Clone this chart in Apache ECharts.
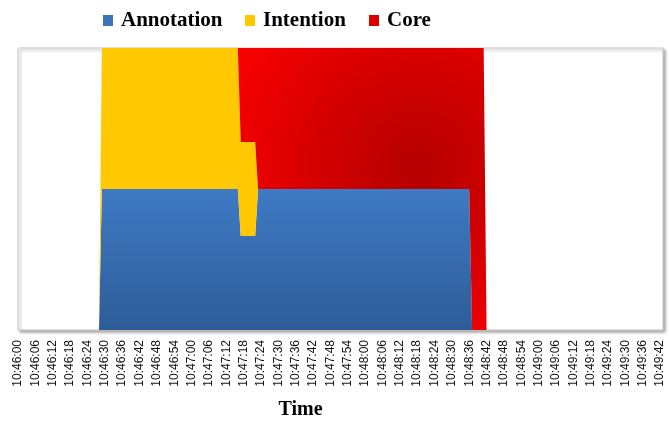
<!DOCTYPE html>
<html>
<head>
<meta charset="utf-8">
<script src="https://cdn.jsdelivr.net/npm/echarts@6/dist/echarts.min.js"></script>
<style>html,body{margin:0;padding:0;background:#fff}#c{width:669px;height:425px}</style>
</head>
<body>
<div id="c"></div>
<script>
// One category per second, 10:46:00 .. 10:49:43
var categories = [
"10:46:00","10:46:01","10:46:02","10:46:03","10:46:04","10:46:05","10:46:06","10:46:07","10:46:08","10:46:09",
"10:46:10","10:46:11","10:46:12","10:46:13","10:46:14","10:46:15","10:46:16","10:46:17","10:46:18","10:46:19",
"10:46:20","10:46:21","10:46:22","10:46:23","10:46:24","10:46:25","10:46:26","10:46:27","10:46:28","10:46:29",
"10:46:30","10:46:31","10:46:32","10:46:33","10:46:34","10:46:35","10:46:36","10:46:37","10:46:38","10:46:39",
"10:46:40","10:46:41","10:46:42","10:46:43","10:46:44","10:46:45","10:46:46","10:46:47","10:46:48","10:46:49",
"10:46:50","10:46:51","10:46:52","10:46:53","10:46:54","10:46:55","10:46:56","10:46:57","10:46:58","10:46:59",
"10:47:00","10:47:01","10:47:02","10:47:03","10:47:04","10:47:05","10:47:06","10:47:07","10:47:08","10:47:09",
"10:47:10","10:47:11","10:47:12","10:47:13","10:47:14","10:47:15","10:47:16","10:47:17","10:47:18","10:47:19",
"10:47:20","10:47:21","10:47:22","10:47:23","10:47:24","10:47:25","10:47:26","10:47:27","10:47:28","10:47:29",
"10:47:30","10:47:31","10:47:32","10:47:33","10:47:34","10:47:35","10:47:36","10:47:37","10:47:38","10:47:39",
"10:47:40","10:47:41","10:47:42","10:47:43","10:47:44","10:47:45","10:47:46","10:47:47","10:47:48","10:47:49",
"10:47:50","10:47:51","10:47:52","10:47:53","10:47:54","10:47:55","10:47:56","10:47:57","10:47:58","10:47:59",
"10:48:00","10:48:01","10:48:02","10:48:03","10:48:04","10:48:05","10:48:06","10:48:07","10:48:08","10:48:09",
"10:48:10","10:48:11","10:48:12","10:48:13","10:48:14","10:48:15","10:48:16","10:48:17","10:48:18","10:48:19",
"10:48:20","10:48:21","10:48:22","10:48:23","10:48:24","10:48:25","10:48:26","10:48:27","10:48:28","10:48:29",
"10:48:30","10:48:31","10:48:32","10:48:33","10:48:34","10:48:35","10:48:36","10:48:37","10:48:38","10:48:39",
"10:48:40","10:48:41","10:48:42","10:48:43","10:48:44","10:48:45","10:48:46","10:48:47","10:48:48","10:48:49",
"10:48:50","10:48:51","10:48:52","10:48:53","10:48:54","10:48:55","10:48:56","10:48:57","10:48:58","10:48:59",
"10:49:00","10:49:01","10:49:02","10:49:03","10:49:04","10:49:05","10:49:06","10:49:07","10:49:08","10:49:09",
"10:49:10","10:49:11","10:49:12","10:49:13","10:49:14","10:49:15","10:49:16","10:49:17","10:49:18","10:49:19",
"10:49:20","10:49:21","10:49:22","10:49:23","10:49:24","10:49:25","10:49:26","10:49:27","10:49:28","10:49:29",
"10:49:30","10:49:31","10:49:32","10:49:33","10:49:34","10:49:35","10:49:36","10:49:37","10:49:38","10:49:39",
"10:49:40","10:49:41","10:49:42","10:49:43"
];

// Activity flags per second (1 = active), 10 values per row
var annotation = [
0,0,0,0,0,0,0,0,0,0,
0,0,0,0,0,0,0,0,0,0,
0,0,0,0,0,0,0,0,0,1,
1,1,1,1,1,1,1,1,1,1,
1,1,1,1,1,1,1,1,1,1,
1,1,1,1,1,1,1,1,1,1,
1,1,1,1,1,1,1,1,1,1,
1,1,1,1,1,1,1,1,1,1,
1,1,1,1,1,1,1,1,1,1,
1,1,1,1,1,1,1,1,1,1,
1,1,1,1,1,1,1,1,1,1,
1,1,1,1,1,1,1,1,1,1,
1,1,1,1,1,1,1,1,1,1,
1,1,1,1,1,1,1,1,1,1,
1,1,1,1,1,1,1,1,1,1,
1,1,1,1,1,1,1,0,0,0,
0,0,0,0,0,0,0,0,0,0,
0,0,0,0,0,0,0,0,0,0,
0,0,0,0,0,0,0,0,0,0,
0,0,0,0,0,0,0,0,0,0,
0,0,0,0,0,0,0,0,0,0,
0,0,0,0,0,0,0,0,0,0,
0,0,0,0
];

var intention = [
0,0,0,0,0,0,0,0,0,0,
0,0,0,0,0,0,0,0,0,0,
0,0,0,0,0,0,0,0,0,1,
1,1,1,1,1,1,1,1,1,1,
1,1,1,1,1,1,1,1,1,1,
1,1,1,1,1,1,1,1,1,1,
1,1,1,1,1,1,1,1,1,1,
1,1,1,1,1,1,1,1,1,1,
1,1,1,0,0,0,0,0,0,0,
0,0,0,0,0,0,0,0,0,0,
0,0,0,0,0,0,0,0,0,0,
0,0,0,0,0,0,0,0,0,0,
0,0,0,0,0,0,0,0,0,0,
0,0,0,0,0,0,0,0,0,0,
0,0,0,0,0,0,0,0,0,0,
0,0,0,0,0,0,0,0,0,0,
0,0,0,0,0,0,0,0,0,0,
0,0,0,0,0,0,0,0,0,0,
0,0,0,0,0,0,0,0,0,0,
0,0,0,0,0,0,0,0,0,0,
0,0,0,0,0,0,0,0,0,0,
0,0,0,0,0,0,0,0,0,0,
0,0,0,0
];

var core = [
0,0,0,0,0,0,0,0,0,0,
0,0,0,0,0,0,0,0,0,0,
0,0,0,0,0,0,0,0,0,0,
0,0,0,0,0,0,0,0,0,0,
0,0,0,0,0,0,0,0,0,0,
0,0,0,0,0,0,0,0,0,0,
0,0,0,0,0,0,0,0,0,0,
0,0,0,0,0,0,0,1,1,1,
1,1,1,1,1,1,1,1,1,1,
1,1,1,1,1,1,1,1,1,1,
1,1,1,1,1,1,1,1,1,1,
1,1,1,1,1,1,1,1,1,1,
1,1,1,1,1,1,1,1,1,1,
1,1,1,1,1,1,1,1,1,1,
1,1,1,1,1,1,1,1,1,1,
1,1,1,1,1,1,1,1,1,1,
1,1,0,0,0,0,0,0,0,0,
0,0,0,0,0,0,0,0,0,0,
0,0,0,0,0,0,0,0,0,0,
0,0,0,0,0,0,0,0,0,0,
0,0,0,0,0,0,0,0,0,0,
0,0,0,0,0,0,0,0,0,0,
0,0,0,0
];

var seriesNames = ["Annotation", "Intention", "Core"];

// 100% stacked: share of each series at each second
var raw = [annotation, intention, core];
var pct = raw.map(function (arr) {
  return arr.map(function (v, i) {
    var s = annotation[i] + intention[i] + core[i];
    return s === 0 ? 0 : v / s * 100;
  });
});

var blueFill = new echarts.graphic.LinearGradient(0, 0, 0, 1, [
  {offset: 0, color: '#3f7ac4'}, {offset: 1, color: '#2d5c98'}]);
var yellowFill = '#ffc800';
var redFill = new echarts.graphic.RadialGradient(0.62, 0.42, 0.72, [
  {offset: 0, color: '#b40000'}, {offset: 1, color: '#f60000'}]);
var fills = [blueFill, yellowFill, redFill];
var legendColors = ['#3f74b8', '#ffc800', '#dd0000'];

var chart = echarts.init(document.getElementById('c'), null, {renderer: 'canvas'});
var legendLefts = [98, 240, 364];
chart.setOption({
  animation: false,
  color: legendColors,
  legend: seriesNames.map(function (n, i) {
    return {
      data: [n], left: legendLefts[i], top: 5,
      itemWidth: 10, itemHeight: 11, icon: 'rect',
      textStyle: {fontFamily: '"Liberation Serif", "Times New Roman", serif', fontWeight: 'bold',
        fontSize: 21, color: '#000', padding: [0, 0, 0, 3]}
    };
  }),
  grid: {
    left: 18, right: 6, top: 48, bottom: 89, show: true,
    backgroundColor: '#fff', borderColor: '#c8c8c8', borderWidth: 1,
    shadowColor: 'rgba(0,0,0,0.35)', shadowBlur: 3, shadowOffsetX: 2, shadowOffsetY: 2
  },
  xAxis: {
    type: 'category', data: categories, boundaryGap: false,
    axisLine: {show: false}, axisTick: {show: false},
    axisLabel: {interval: 5, rotate: 90, fontSize: 12, margin: 10,
      fontFamily: '"Liberation Sans", Arial, sans-serif', color: '#111'},
    name: 'Time', nameLocation: 'middle', nameGap: 70,
    nameTextStyle: {fontFamily: '"Liberation Serif", "Times New Roman", serif', fontWeight: 'bold',
      fontSize: 20, color: '#000', padding: [0, 80, 0, 0]}
  },
  yAxis: {type: 'value', min: 0, max: 100, show: false, splitLine: {show: false}},
  series: seriesNames.map(function (n, i) {
    return {
      name: n, type: 'line', stack: 'total', data: pct[i],
      showSymbol: false, symbol: 'none',
      lineStyle: {width: 0, opacity: 0},
      areaStyle: {color: fills[i], opacity: 1},
      itemStyle: {color: legendColors[i]}
    };
  })
});
</script>
</body>
</html>
